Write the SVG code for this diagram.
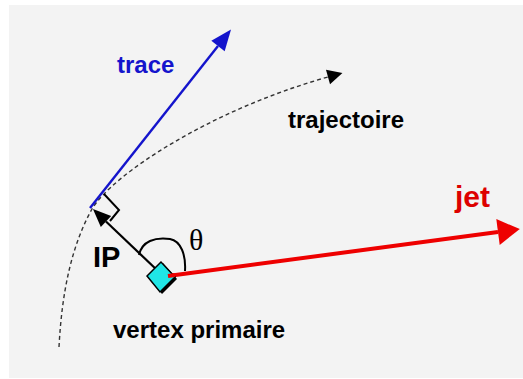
<svg xmlns="http://www.w3.org/2000/svg" width="523" height="379" viewBox="0 0 523 379">
<style>
.lbl{font-family:"Liberation Sans",Arial,sans-serif;font-weight:bold}
</style>
<defs>
<marker id="ahBlue" markerUnits="userSpaceOnUse" markerWidth="22" markerHeight="18" refX="0" refY="8.5" orient="auto" overflow="visible"><path d="M0,0 L21,8.5 L0,17 z" fill="#1414cc"/></marker>
<marker id="ahRed" markerUnits="userSpaceOnUse" markerWidth="24" markerHeight="28" refX="0" refY="13" orient="auto" overflow="visible"><path d="M0,0 L22,13 L0,26 z" fill="#ee0000"/></marker>
<marker id="ahBlack" markerUnits="userSpaceOnUse" markerWidth="20" markerHeight="16" refX="0" refY="7.5" orient="auto" overflow="visible"><path d="M0,0 L18,7.5 L0,15 z" fill="#000"/></marker>
<marker id="ahSmall" markerUnits="userSpaceOnUse" markerWidth="16" markerHeight="16" refX="0" refY="7.5" orient="auto" overflow="visible"><path d="M0,0 L15,7.5 L0,15 z" fill="#000"/></marker>
</defs>
<rect x="0" y="0" width="523" height="379" fill="#ffffff"/>
<rect x="9" y="5" width="514" height="373" fill="#f3f3f3"/>
<g id="connectors">
<path id="trajectoire-curve" d="M59,347 C62,290 72,245 92,209 C112,175 210,110 328,77" fill="none" stroke="#333" stroke-width="1.4" stroke-dasharray="4,3" marker-end="url(#ahSmall)"/>
<line id="trace-line" x1="90" y1="208" x2="218" y2="46" stroke="#1414cc" stroke-width="2.4" marker-end="url(#ahBlue)"/>
<line id="ip-line" x1="158" y1="271" x2="106" y2="221.5" stroke="#000" stroke-width="2.2" marker-end="url(#ahBlack)"/>
<polyline id="right-angle" points="104,194 119,210 110,221" fill="none" stroke="#000" stroke-width="2"/>
<path id="theta-arc" d="M139,255 C142,241 155,237 170,239 C181,241 186,255 185,271" fill="none" stroke="#000" stroke-width="2"/>
<line id="jet-line" x1="168" y1="276" x2="498" y2="232" stroke="#ee0000" stroke-width="4" marker-end="url(#ahRed)"/>
</g>
<g id="vertex">
<polygon points="163,263 149,278 162,294 177,279" fill="#000"/>
<polygon points="161,262 147,276 160,292 175,277" fill="#20e6e6" stroke="#000" stroke-width="1.5"/>
<line x1="168" y1="276" x2="175" y2="275" stroke="#ee0000" stroke-width="4"/>
</g>
<g id="label-trace"><text class="lbl" x="117" y="73" font-size="24" fill="#1414cc">trace</text></g>
<g id="label-trajectoire"><text class="lbl" x="288" y="128" font-size="24" fill="#000">trajectoire</text></g>
<g id="label-jet"><text class="lbl" x="455" y="207" font-size="30" fill="#dd0000">jet</text></g>
<g id="label-ip"><text class="lbl" x="93" y="267" font-size="29" fill="#000">IP</text></g>
<g id="label-theta"><text x="189" y="250" font-family="'Liberation Serif','Times New Roman',serif" font-size="30" fill="#000">θ</text></g>
<g id="label-vertex"><text class="lbl" x="113" y="338" font-size="24" fill="#000">vertex primaire</text></g>
</svg>
